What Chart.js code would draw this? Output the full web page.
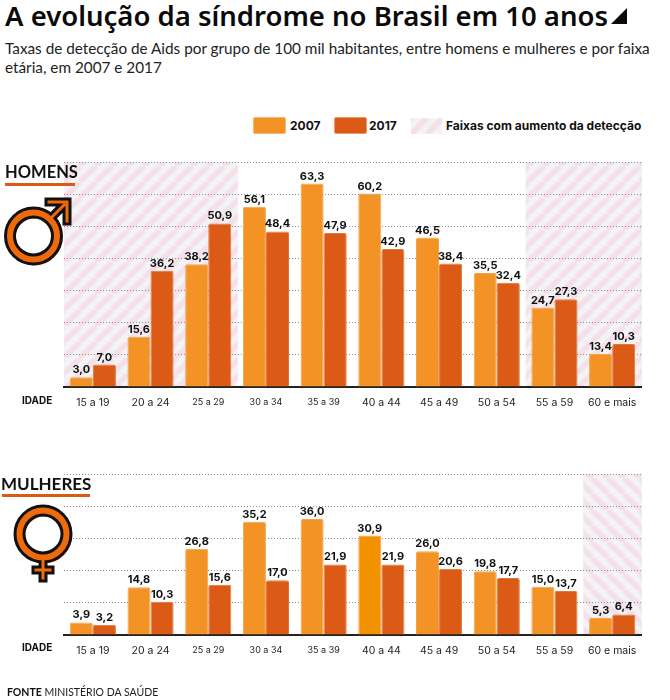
<!DOCTYPE html>
<html lang="pt">
<head>
<meta charset="utf-8">
<title>A evolução da síndrome no Brasil em 10 anos</title>
<script src="https://cdn.jsdelivr.net/npm/chart.js@4/dist/chart.umd.min.js"></script>
<style>
  html, body { margin: 0; padding: 0; background: #fff; }
  body { position: relative; width: 670px; height: 700px; overflow: hidden; color: #111; font-family: "Noto Sans", sans-serif; }
  .abs { position: absolute; white-space: nowrap; }
  canvas { position: absolute; left: 0; }
  #title { left: 5px; top: -3px; font: 600 27.5px/38px "Noto Sans", sans-serif; color: #0a0a0a; }
  #titleMark { left: 611px; top: 8px; width: 0; height: 0; border-left: 16px solid transparent; border-bottom: 16px solid #0a0a0a; }
  #sub { left: 5px; top: 39px; font: 400 15.3px/18.5px Lato, sans-serif; color: #222; }
  .sw { width: 31px; height: 15px; top: 118px; border-radius: 2px; }
  .leg { top: 116px; font: 700 12px/20px Inter, sans-serif; color: #111; }
  .section { font: 700 17px/22px Lato, sans-serif; color: #111; }
  .rule { height: 3px; background: #db5a15; }
  .idade { left: 22px; font: 700 10px/14px Inter, sans-serif; color: #111; }
  #fonte { left: 7px; top: 685px; font: 400 10.5px/14px Lato, sans-serif; color: #222; }
  #fonte b { color: #111; }
</style>
</head>
<body>
<div class="abs" id="title">A evolução da síndrome no Brasil em 10 anos</div>
<div class="abs" id="titleMark"></div>
<div class="abs" id="sub">Taxas de detecção de Aids por grupo de 100 mil habitantes, entre homens e mulheres e por faixa<br>etária, em 2007 e 2017</div>

<div class="abs sw" style="left:254px;background:#f39325;border:1px solid #f8b671;margin:-1px"></div>
<div class="abs leg" style="left:290px">2007</div>
<div class="abs sw" style="left:335px;background:#db5a15;border:1px solid #eb9a6b;margin:-1px"></div>
<div class="abs leg" style="left:369px">2017</div>
<canvas id="legendHatch" width="31" height="16" style="left:411px;top:118px"></canvas>
<div class="abs leg" style="left:446px">Faixas com aumento da detecção</div>

<canvas id="menChart" style="top:150px"></canvas>
<canvas id="womenChart" style="top:462px"></canvas>

<div class="abs section" style="left:5px;top:161px;font-size:16.5px">HOMENS</div>
<div class="abs rule" style="left:5px;top:183px;width:70px"></div>
<div class="abs section" style="left:1px;top:473px">MULHERES</div>
<div class="abs rule" style="left:2px;top:494px;width:88px"></div>

<svg class="abs" style="left:0;top:190px" width="80" height="80" viewBox="0 0 80 80">
  <circle cx="34.5" cy="47.5" r="23.5" fill="none" stroke="#ee6a0a" stroke-width="9"/>
  <path d="M50 29 L64 15 M49 12 H67 V31" fill="none" stroke="#111" stroke-width="9" stroke-linecap="square"/>
  <circle cx="33.5" cy="46" r="23.5" fill="none" stroke="#111" stroke-width="12"/>
  <circle cx="33.5" cy="46" r="23.5" fill="none" stroke="#ee6a0a" stroke-width="6"/>
  <path d="M50 29 L64 15 M49 12 H67 V31" fill="none" stroke="#ee6a0a" stroke-width="3" stroke-linecap="square"/>
</svg>
<svg class="abs" style="left:0;top:500px" width="80" height="90" viewBox="0 0 80 90">
  <circle cx="44" cy="35.5" r="23.5" fill="none" stroke="#ee6a0a" stroke-width="9"/>
  <path d="M43 62 V78 M36 70 H50" fill="none" stroke="#111" stroke-width="9" stroke-linecap="square"/>
  <circle cx="43" cy="34" r="23.5" fill="none" stroke="#111" stroke-width="12"/>
  <circle cx="43" cy="34" r="23.5" fill="none" stroke="#ee6a0a" stroke-width="6"/>
  <path d="M43 60 V78 M36 70 H50" fill="none" stroke="#ee6a0a" stroke-width="3" stroke-linecap="square"/>
</svg>

<div class="abs idade" style="top:393px">IDADE</div>
<div class="abs idade" style="top:640px">IDADE</div>
<div class="abs" id="fonte"><b>FONTE</b> MINISTÉRIO DA SAÚDE</div>

<script>
// faixas etarias
const AGE_GROUPS = ['15 a 19', '20 a 24', '25 a 29', '30 a 34', '35 a 39', '40 a 44', '45 a 49', '50 a 54', '55 a 59', '60 e mais'];
// these three labels are set smaller in the original
const SMALL_LABELS = ['25 a 29', '30 a 34', '35 a 39'];

// bar heights as drawn; the last men's pair is drawn swapped against its printed labels
const MEN_2007 = [3.0, 15.6, 38.2, 56.1, 63.3, 60.2, 46.5, 35.5, 24.7, 10.3];
const MEN_2017 = [7.0, 36.2, 50.9, 48.4, 47.9, 42.9, 38.4, 32.4, 27.3, 13.4];
const WOMEN_2007 = [3.9, 14.8, 26.8, 35.2, 36.0, 30.9, 26.0, 19.8, 15.0, 5.3];
const WOMEN_2017 = [3.2, 10.3, 15.6, 17.0, 21.9, 21.9, 20.6, 17.7, 13.7, 6.4];

// printed labels
const MEN_2007_LABELS = ['3,0', '15,6', '38,2', '56,1', '63,3', '60,2', '46,5', '35,5', '24,7', '13,4'];
const MEN_2017_LABELS = ['7,0', '36,2', '50,9', '48,4', '47,9', '42,9', '38,4', '32,4', '27,3', '10,3'];
const WOMEN_2007_LABELS = ['3,9', '14,8', '26,8', '35,2', '36,0', '30,9', '26,0', '19,8', '15,0', '5,3'];
const WOMEN_2017_LABELS = ['3,2', '10,3', '15,6', '17,0', '21,9', '21,9', '20,6', '17,7', '13,7', '6,4'];

// categories that get the hatched background
const MEN_BANDS = ['15 a 19', '20 a 24', '25 a 29', '55 a 59', '60 e mais'];
const WOMEN_BANDS = ['60 e mais'];

const COLOR_2007 = '#f39325';
const COLOR_2017 = '#db5a15';
const EDGE_2007 = '#f5a24a';
const EDGE_2017 = '#e3743a';
const HATCH_BG = '#f3f3f5';
const HATCH_STRIPE = '#f3e0e9';

// Diagonal stripe tile, dir 1 goes like "/" and -1 like "\"
function hatch_tile(dir) {
  const size = 16;
  const tile = document.createElement('canvas');
  tile.width = tile.height = size;
  const c = tile.getContext('2d');
  c.fillStyle = HATCH_BG;
  c.fillRect(0, 0, size, size);
  c.strokeStyle = HATCH_STRIPE;
  c.lineWidth = 5.6;
  for (let i = -size; i <= size * 2; i += size) {
    c.beginPath();
    if (dir > 0) {
      c.moveTo(i, size);
      c.lineTo(i + size, 0);
    } else {
      c.moveTo(i, 0);
      c.lineTo(i + size, size);
    }
    c.stroke();
  }
  return tile;
}

// Draws the hatched bands under the grid, from the category scale
const bandsPlugin = {
  id: 'bands',
  beforeDraw(chart, args, opts) {
    const { ctx, chartArea, scales } = chart;
    const step = scales.x.width / AGE_GROUPS.length;
    ctx.save();
    ctx.fillStyle = ctx.createPattern(hatch_tile(opts.dir), 'repeat');
    opts.groups.forEach(name => {
      const x = scales.x.getPixelForValue(AGE_GROUPS.indexOf(name));
      ctx.fillRect(x - step / 2, chartArea.top, step + 1, chartArea.bottom - chartArea.top);
    });
    ctx.restore();
  }
};

// Printed values over the bars
const valueLabels = {
  id: 'valueLabels',
  afterDatasetsDraw(chart, args, opts) {
    const { ctx } = chart;
    ctx.save();
    ctx.font = '700 11px Inter, sans-serif';
    ctx.fillStyle = '#111';
    ctx.textAlign = 'center';
    ctx.textBaseline = 'alphabetic';
    chart.data.datasets.forEach((ds, d) => {
      chart.getDatasetMeta(d).data.forEach((bar, i) => {
        ctx.fillText(opts.labels[d][i], bar.x, bar.y - 4);
      });
    });
    ctx.restore();
  }
};

function bar_chart(id, height, maxValue, data2007, data2017, labels, bands, dir, colors2007) {
  const el = document.getElementById(id);
  el.width = 670;
  el.height = height;
  el.style.width = '670px';
  el.style.height = height + 'px';
  return new Chart(el.getContext('2d'), {
    type: 'bar',
    data: {
      labels: AGE_GROUPS,
      datasets: [
        { label: '2007', data: data2007, backgroundColor: colors2007, borderColor: EDGE_2007, borderWidth: 1, borderRadius: { topLeft: 2, topRight: 2 } },
        { label: '2017', data: data2017, backgroundColor: COLOR_2017, borderColor: EDGE_2017, borderWidth: 1, borderRadius: { topLeft: 2, topRight: 2 } }
      ]
    },
    options: {
      responsive: false,
      animation: false,
      layout: { padding: { left: 64, right: 29, top: 12, bottom: 0 } },
      datasets: { bar: { categoryPercentage: 0.8, barPercentage: 1 } },
      scales: {
        x: {
          afterFit: axis => { axis.height = 33; },
          grid: { display: false },
          border: { display: true, color: '#222', width: 2 },
          ticks: {
            padding: 2,
            maxRotation: 0,
            autoSkip: false,
            color: '#222',
            font: ctx => ({
              family: 'Inter, sans-serif',
              size: SMALL_LABELS.includes(AGE_GROUPS[ctx.index]) ? 9 : 10.5
            })
          }
        },
        y: {
          min: 0,
          max: maxValue,
          ticks: { display: false, stepSize: 10 },
          border: { display: false, dash: [1, 2] },
          grid: { color: '#8f8f8f', lineWidth: 1, drawTicks: false }
        }
      },
      plugins: {
        legend: { display: false },
        tooltip: { enabled: false },
        bands: { groups: bands, dir: dir },
        valueLabels: { labels: labels }
      }
    },
    plugins: [bandsPlugin, valueLabels]
  });
}

// legend swatch uses the same stripes
const lh = document.getElementById('legendHatch').getContext('2d');
lh.fillStyle = lh.createPattern(hatch_tile(1), 'repeat');
lh.fillRect(0, 0, 31, 16);

// 40 a 44 in 2007 is a slightly stronger orange in the women's chart
const womenColors2007 = AGE_GROUPS.map(a => a === '40 a 44' ? '#f39200' : COLOR_2007);

bar_chart('menChart', 270, 70, MEN_2007, MEN_2017, [MEN_2007_LABELS, MEN_2017_LABELS], MEN_BANDS, 1, COLOR_2007);
bar_chart('womenChart', 206, 50, WOMEN_2007, WOMEN_2017, [WOMEN_2007_LABELS, WOMEN_2017_LABELS], WOMEN_BANDS, -1, womenColors2007);
</script>
</body>
</html>
